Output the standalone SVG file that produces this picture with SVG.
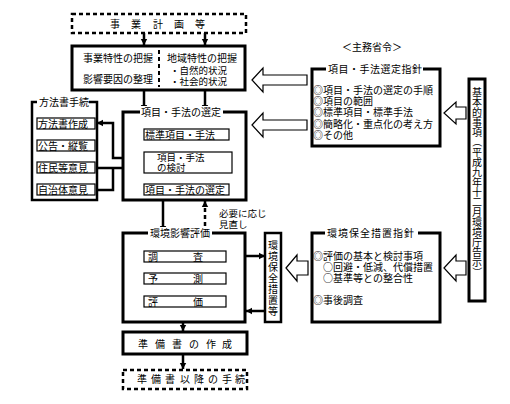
<svg xmlns="http://www.w3.org/2000/svg" width="510" height="404" viewBox="0 0 510 404">
<defs>
<marker id="ah" markerUnits="userSpaceOnUse" markerWidth="8" markerHeight="8" refX="6" refY="4" orient="auto">
<path d="M0,0.8 L6,4 L0,7.2 Z" fill="#000"/>
</marker>
<marker id="sah" markerUnits="userSpaceOnUse" markerWidth="8" markerHeight="8" refX="5" refY="4" orient="auto">
<path d="M1,1 L5,4 L1,7" fill="none" stroke="#000" stroke-width="1"/>
</marker>
</defs>
<style>
text{font-family:"Noto Sans CJK JP","Noto Sans CJK SC",sans-serif;font-size:10px;fill:#000}
.thick{fill:#fff;stroke:#000;stroke-width:3}
.mid{fill:#fff;stroke:#000;stroke-width:2.5}
.thin{fill:#fff;stroke:#000;stroke-width:1.2}
.dash{fill:#fff;stroke:#000;stroke-width:2.5;stroke-dasharray:4 3}
.gap{fill:#fff;stroke:none}
.conn{fill:none;stroke:#000;stroke-width:2.5}
.sconn{fill:none;stroke:#000;stroke-width:1}
.hollow{fill:#fff;stroke:#000;stroke-width:1.2}
.sm{font-size:9.5px}
</style>
<rect width="510" height="404" fill="#fff"/>

<g id="connectors">
<line class="conn" x1="144" y1="33" x2="144" y2="45" marker-end="url(#ah)"/>
<line class="conn" x1="205" y1="33" x2="205" y2="45" marker-end="url(#ah)"/>
<line class="conn" x1="144" y1="90" x2="144" y2="111" marker-end="url(#ah)"/>
<line class="conn" x1="205" y1="90" x2="205" y2="111" marker-end="url(#ah)"/>
<polyline class="conn" points="144,158 113,158 113,123 97,123" marker-end="url(#ah)"/>
<line class="conn" x1="95" y1="168" x2="144" y2="168" marker-end="url(#ah)"/>
<polyline class="conn" points="95,190 113,190 113,168"/>
<line class="sconn" x1="62" y1="129" x2="62" y2="140" marker-end="url(#sah)"/>
<line class="sconn" x1="62" y1="151" x2="62" y2="162" marker-end="url(#sah)"/>
<line class="sconn" x1="62" y1="173" x2="62" y2="184" marker-end="url(#sah)"/>
<line class="sconn" x1="187" y1="140" x2="187" y2="152" marker-end="url(#sah)"/>
<line class="sconn" x1="187" y1="173" x2="187" y2="184" marker-end="url(#sah)"/>
<line class="conn" x1="163" y1="200" x2="163" y2="232" marker-end="url(#ah)"/>
<line class="conn" x1="205" y1="233" x2="205" y2="201" stroke-dasharray="4 3" marker-end="url(#ah)"/>
<line class="sconn" x1="185" y1="262" x2="185" y2="273" marker-end="url(#sah)"/>
<line class="sconn" x1="185" y1="284" x2="185" y2="296" marker-end="url(#sah)"/>
<line class="conn" x1="245" y1="256" x2="265" y2="256" marker-end="url(#ah)"/>
<line class="conn" x1="265" y1="311" x2="246" y2="311" marker-end="url(#ah)"/>
<line class="conn" x1="183" y1="322" x2="183" y2="331" marker-end="url(#ah)"/>
<line class="conn" x1="183" y1="354" x2="183" y2="369" marker-end="url(#ah)"/>
<polygon class="hollow" points="252,80 263,68 263,75 307,75 307,85 263,85 263,92"/>
<polygon class="hollow" points="252,125 263,113 263,120 307,120 307,130 263,130 263,137"/>
<polygon class="hollow" points="444,113 456,102 456,107 466,107 466,119 456,119 456,124"/>
<polygon class="hollow" points="286,268 297,255 297,261 308,261 308,275 297,275 297,281"/>
<polygon class="hollow" points="444,268 456,255 456,261 466,261 466,275 456,275 456,281"/>
</g>

<g id="node-jigyo">
<rect class="dash" x="72" y="14" width="174" height="19"/>
<text x="110 131 153 174 195" y="27.5">事業計画等</text>
</g>

<g id="node-tokusei">
<rect class="thick" x="72" y="46" width="173" height="44"/>
<line x1="159" y1="50" x2="159" y2="87" stroke="#000" stroke-width="2" stroke-dasharray="4 3"/>
<text x="83" y="62">事業特性の把握</text>
<text x="83" y="83">影響要因の整理</text>
<text x="167" y="62">地域特性の把握</text>
<text class="sm" x="170" y="74">・自然的状況</text>
<text class="sm" x="170" y="85">・社会的状況</text>
</g>

<g id="node-houhousho">
<rect class="mid" x="32" y="102" width="65" height="98"/>
<rect class="gap" x="37" y="97" width="52" height="10"/>
<text x="39" y="106">方法書手続</text>
<rect class="thin" x="37" y="118" width="58" height="11"/>
<text x="38" y="127.5">方法書作成</text>
<rect class="thin" x="37" y="140" width="58" height="11"/>
<text x="38" y="149.5">公告・縦覧</text>
<rect class="thin" x="37" y="162" width="58" height="11"/>
<text x="38" y="171.5">住民等意見</text>
<rect class="thin" x="37" y="184" width="58" height="11"/>
<text x="38" y="193.5">自治体意見</text>
</g>

<g id="node-sentei">
<rect class="thick" x="123" y="112" width="123" height="88" fill="none"/>
<rect class="gap" x="140" y="106" width="83" height="12"/>
<text x="141" y="116">項目・手法の選定</text>
<rect class="thin" x="144" y="129" width="85" height="11"/>
<text x="145" y="138.5">標準項目・手法</text>
<rect class="thin" x="144" y="152" width="88" height="21"/>
<text class="sm" x="157" y="161">項目・手法</text>
<text class="sm" x="157" y="171">の検討</text>
<rect class="thin" x="144" y="184" width="85" height="11"/>
<text x="145" y="193.5">項目・手法の選定</text>
</g>

<g id="label-minaoshi">
<text class="sm" x="219" y="217">必要に応じ</text>
<text class="sm" x="219" y="228">見直し</text>
</g>

<g id="node-hyoka">
<rect class="thick" x="123" y="233" width="122" height="89"/>
<rect class="gap" x="148" y="227" width="64" height="12"/>
<text x="150" y="237">環境影響評価</text>
<rect class="thin" x="144" y="251" width="82" height="11"/>
<text x="148 193" y="260.5">調査</text>
<rect class="thin" x="144" y="273" width="82" height="11"/>
<text x="148 193" y="282.5">予測</text>
<rect class="thin" x="144" y="296" width="82" height="11"/>
<text x="148 193" y="305.5">評価</text>
</g>

<g id="node-hozensochi">
<rect class="mid" x="265" y="233" width="16" height="89"/>
<text x="268 268 268 268 268 268 268" y="248.8 259.8 270.8 281.8 292.8 303.8 314.8">環境保全措置等</text>
</g>

<g id="node-junbisho">
<rect class="thick" x="123" y="332" width="124" height="22"/>
<text x="138 155 172 189 206 222" y="348">準備書の作成</text>
</g>

<g id="node-igo">
<rect class="dash" x="123" y="370" width="124" height="19"/>
<text x="137 151 165 180 194 208 222 235" y="383">準備書以降の手続</text>
</g>

<g id="label-shorei">
<text x="372" y="51" text-anchor="middle">＜主務省令＞</text>
</g>

<g id="node-sentei-shishin">
<rect class="thick" x="312" y="69" width="128" height="77"/>
<rect class="gap" x="326" y="63" width="97" height="12"/>
<text x="328" y="73" letter-spacing="0.5">項目・手法選定指針</text>
<text x="313" y="94">◎項目・手法の選定の手順</text>
<text x="313" y="105">◎項目の範囲</text>
<text x="313" y="116">◎標準項目・標準手法</text>
<text x="313" y="128">◎簡略化・重点化の考え方</text>
<text x="313" y="139">◎その他</text>
</g>

<g id="node-hozen-shishin">
<rect class="thick" x="312" y="233" width="128" height="89"/>
<rect class="gap" x="325" y="227" width="93" height="12"/>
<text x="327" y="237" letter-spacing="1">環境保全措置指針</text>
<text x="313" y="260">◎評価の基本と検討事項</text>
<text x="313" y="271">　○回避・低減、代償措置</text>
<text x="313" y="282">　○基準等との整合性</text>
<text x="313" y="304">◎事後調査</text>
</g>

<g id="node-kihon">
<rect class="thick" x="469" y="79" width="16" height="222"/>
<text x="472 472 472 472 472 473.2 472 472 472 472 472 472 472 472 472 472 472 472 473.2" y="95.8 105.8 115.8 125.8 135.8 137 155.8 165.8 175.8 185.8 195.8 205.8 215.8 225.8 235.8 245.8 255.8 265.8 267" rotate="0 0 0 0 0 90 0 0 0 0 0 0 0 0 0 0 0 0 90">基本的事項（平成九年十二月環境庁告示）</text>
</g>
</svg>
